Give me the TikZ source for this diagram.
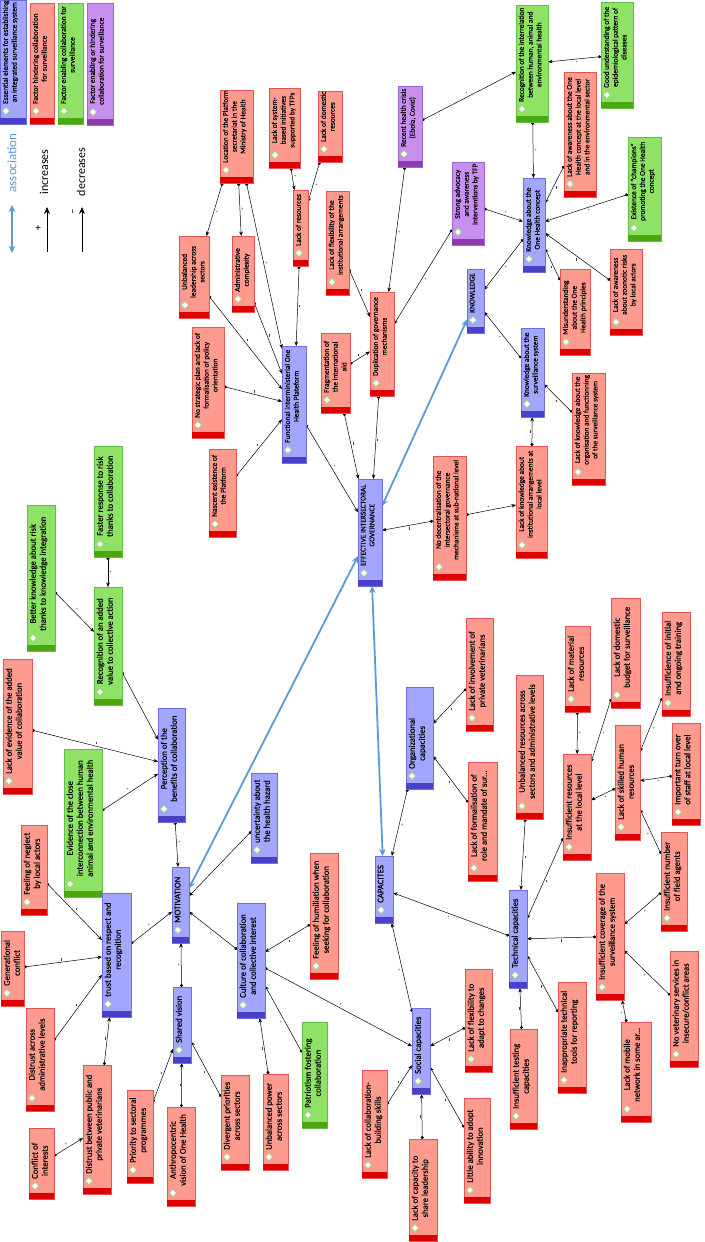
\documentclass[tikz,border=0pt]{standalone}
\usepackage{fontspec}
\setmainfont{Carlito}
\newfontfamily\bxfont{Carlito}[FakeBold=0.35]
\usetikzlibrary{arrows.meta,shapes.geometric,calc}
\definecolor{redfill}{RGB}{255,155,142}
\definecolor{redline}{RGB}{225,85,85}
\definecolor{redstrip}{RGB}{222,0,0}
\definecolor{bluefill}{RGB}{162,166,255}
\definecolor{blueline}{RGB}{110,110,225}
\definecolor{bluestrip}{RGB}{72,64,200}
\definecolor{greenfill}{RGB}{142,226,102}
\definecolor{greenline}{RGB}{100,190,70}
\definecolor{greenstrip}{RGB}{76,166,16}
\definecolor{purplefill}{RGB}{200,142,240}
\definecolor{purpleline}{RGB}{160,100,210}
\definecolor{purplestrip}{RGB}{140,60,175}
\definecolor{diamline}{RGB}{160,205,130}
\definecolor{assocblue}{RGB}{91,155,213}
\pgfdeclarelayer{back}\pgfdeclarelayer{edges}\pgfsetlayers{back,edges,main}
\tikzset{
  box/.style={draw, rectangle, inner sep=0pt, outer sep=0pt, line width=0.6pt},
  rb/.style={fill=redfill, draw=redline}, rbstrip/.style={fill=redstrip},
  bb/.style={fill=bluefill, draw=blueline}, bbstrip/.style={fill=bluestrip},
  gb/.style={fill=greenfill, draw=greenline}, gbstrip/.style={fill=greenstrip},
  pb/.style={fill=purplefill, draw=purpleline}, pbstrip/.style={fill=purplestrip},
  diam/.style={diamond, draw=diamline, fill=white, line width=0.8pt, minimum size=7.5pt, inner sep=0pt},
  txtS/.style={rotate=90, anchor=north west, align=center, inner sep=1pt, font=\bxfont\fontsize{7.4}{8.8}\selectfont},
  txtL/.style={rotate=90, anchor=north west, align=center, inner sep=1pt, font=\bxfont\fontsize{8.7}{10}\selectfont},
  conn/.style={line width=0.5pt, {Circle[length=3pt]}-{Stealth[length=4.5pt,width=3.6pt]}},
  lab/.style={midway, auto, inner sep=1.2pt, font=\fontsize{4.5}{4.5}\selectfont, text=black!75},
  assoc/.style={line width=1.8pt, draw=assocblue, {Stealth[length=7pt,width=6.5pt]}-{Stealth[length=7pt,width=6.5pt]}},
  legtxt/.style={rotate=90, font=\fontsize{12}{12}\selectfont}
}
\newcommand{\bx}[8]{%
  \node[box,#2,minimum width={((#5)-(#3))*1pt},minimum height={((#6)-(#4))*1pt}] (#1) at ({((#3)+(#5))/2},{((#4)+(#6))/2}) {};
  \fill[#2strip] ([xshift=0.4pt,yshift=0.4pt]#1.south west) rectangle ([xshift=-0.4pt,yshift=6pt]#1.south east);
  \node[diam] at ([shift={(6pt,13pt)}]#1.south west) {};
  \node[txt#7] at ([shift={(1.5pt,19pt)}]#1.south west) {#8};
}
\newcommand{\ed}[3]{\begin{pgfonlayer}{edges}\draw[conn] (#1) -- node[lab]{#3} (#2);\end{pgfonlayer}}
\newcommand{\as}[2]{\begin{pgfonlayer}{edges}\draw[assoc] (#1) -- (#2);\end{pgfonlayer}}
\newcommand{\mi}{\rule{0.35pt}{2.4pt}}
\begin{document}
\begin{tikzpicture}[x=1pt,y=-1pt]
\begin{pgfonlayer}{back}
\fill[white] (0,0) rectangle (704,1242);
\end{pgfonlayer}
\useasboundingbox (0,0) rectangle (704,1242);
% legend
\bx{legA}{bb}{0}{0}{26}{124}{S}{Essential elements for establishing\\an integrated surveillance system}
\bx{legB}{rb}{30}{3}{54}{124}{S}{Factor hindering collaboration\\for surveillance}
\bx{legC}{gb}{58}{3}{83}{124}{S}{Factor enabling collaboration for\\surveillance}
\bx{legD}{pb}{87}{3}{113}{125}{S}{Factor enabling or hindering\\collaboration for surveillance}
\node[legtxt, text=assocblue, font=\fontsize{13}{13}\selectfont] (assoclab) at (12,163) {association};
\coordinate (aA) at (12,205); \coordinate (aB) at (12,253);
\draw[assoc] (aA) -- (aB);
\node[legtxt] (inclab) at (44,172) {increases};
\coordinate (iA) at (47,252); \coordinate (iB) at (47,207);
\draw[line width=0.9pt, -{Stealth[length=7pt,width=6pt]}] (iA) -- (iB);
\node[font=\fontsize{11}{11}\selectfont] (iplus) at (38,228) {+};
\node[legtxt] (declab) at (81,172) {decreases};
\coordinate (dA) at (82,252); \coordinate (dB) at (82,207);
\draw[line width=0.9pt, -{Stealth[length=7pt,width=6pt]}] (dA) -- (dB);
\node[legtxt, font=\fontsize{11}{11}\selectfont] (dminus) at (74,212) {–};
% governance / knowledge region
\bx{loc}{rb}{220}{90}{253}{183}{S}{Location of the Platform\\secretariat in the\\Ministry of Health}
\bx{unbl}{rb}{179}{236}{209}{318}{S}{Unbalanced\\leadership across\\sectors}
\bx{admc}{rb}{232}{236}{254}{312}{S}{Administrative\\complexity}
\bx{lsys}{rb}{269}{88}{300}{168}{S}{Lack of system-\\based initiatives\\supported by TFPs}
\bx{ldom}{rb}{318}{91}{342}{162}{S}{Lack of domestic\\resources}
\bx{lres}{rb}{293}{190}{308}{266}{S}{Lack of resources}
\bx{lflex}{rb}{326}{191}{349}{295}{S}{Lack of flexibility of the\\institutional arrangements}
\bx{rhc}{pb}{398}{86}{422}{167}{S}{Recent health crisis\\(Ebola, Covid)}
\bx{sadv}{pb}{452}{162}{484}{245}{S}{Strong advocacy\\and awareness\\interventions by TFP}
\bx{dupl}{rb}{370}{292}{394}{396}{S}{Duplication of governance\\mechanisms}
\bx{rint}{gb}{516}{5}{548}{122}{S}{Recognition of the interrelation\\between human, animal and\\environmental health}
\bx{gund}{gb}{601}{2}{633}{108}{S}{Good understanding of the\\epidemiological pattern of\\diseases}
\bx{lawoh}{rb}{564}{72}{596}{197}{S}{Lack of awareness about the One\\Health concept at the local level\\and in the environmental sector}
\bx{champ}{gb}{628}{137}{661}{241}{S}{Existence of “champions”\\promoting the One Health\\concept}
\bx{koh}{bb}{523}{178}{545}{272}{S}{Knowledge about the\\One Health concept}
\bx{misu}{rb}{560}{269}{590}{355}{S}{Misunderstanding\\about the One\\Health principles}
\bx{lazoo}{rb}{610}{249}{642}{335}{S}{Lack of awareness\\about zoonotic risks\\by local actors}
\bx{know}{bb}{467}{269}{484}{333}{S}{KNOWLEDGE}
\bx{ksurv}{bb}{521}{328}{544}{417}{S}{Knowledge about the\\surveillance system}
\bx{lkorg}{rb}{572}{373}{605}{485}{S}{Lack of knowledge about the\\organisation and functionning\\of the surveillance system}
\bx{lkinst}{rb}{516}{446}{547}{558}{S}{Lack of knowledge about\\institutional arrangements at\\local level}
\bx{nodec}{rb}{433}{456}{466}{580}{S}{No decentralisation of the\\intersectoral governance\\mechanisms at sub-national level}
\bx{func}{bb}{282}{346}{306}{463}{S}{Functional interministerial One\\Health Plateform}
\bx{frag}{rb}{321}{333}{350}{413}{S}{Fragmentation of\\the international\\aid}
\bx{eig}{bb}{358}{479}{382}{586}{S}{EFFECTIVE INTERSECTORAL\\GOVERNANCE}
\bx{nasc}{rb}{209}{449}{236}{537}{S}{Nascent existence of\\the Platform}
\bx{nostr}{rb}{192}{327}{224}{438}{S}{No strategic plan and lack of\\formalisation of policy\\orientation}
% motivation region
\bx{fast}{gb}{94}{446}{122}{557}{L}{Faster response to risk\\thanks to collaboration}
\bx{bett}{gb}{27}{505}{55}{651}{L}{Better knowledge about risk\\thanks to knowledge integration}
\bx{radd}{gb}{94}{587}{122}{705}{L}{Recognition of an added\\value to collective action}
\bx{levid}{rb}{3}{659}{32}{794}{L}{Lack of evidence of the added\\value of collaboration}
\bx{evid}{gb}{64}{749}{102}{897}{L}{Evidence of the close\\interconnection between human\\animal and environmental health}
\bx{perc}{bb}{158}{708}{185}{822}{L}{Perception of the\\benefits of collaboration}
\bx{negl}{rb}{21}{825}{47}{915}{L}{Feeling of neglect\\by local actors}
\bx{motiv}{bb}{172}{867}{189}{943}{L}{MOTIVATION}
\bx{trust}{bb}{102}{893}{131}{1017}{L}{trust based on respect and\\recognition}
\bx{unc}{bb}{251}{773}{277}{863}{L}{uncertainty about\\the health hazard}
\bx{humi}{rb}{310}{853}{338}{979}{L}{Feeling of humiliation when\\seeking for collaboration}
\bx{cult}{bb}{237}{903}{265}{1018}{L}{Culture of collaboration\\and collective interest}
\bx{gen}{rb}{1}{931}{24}{1006}{L}{Generational\\conflict}
\bx{dacr}{rb}{26}{1008}{54}{1111}{L}{Distrust across\\administrative levels}
\bx{coi}{rb}{29}{1128}{54}{1199}{L}{Conflict of\\interests}
\bx{dpub}{rb}{83}{1065}{111}{1194}{L}{Distrust between public and\\private veterinarians}
\bx{shv}{bb}{173}{987}{191}{1063}{L}{Shared vision}
\bx{prio}{rb}{127}{1090}{153}{1183}{L}{Priority to sectoral\\programmes}
\bx{anth}{rb}{167}{1107}{195}{1206}{L}{Anthropocentric\\vision of One Health}
\bx{divp}{rb}{221}{1075}{249}{1170}{L}{Divergent priorities\\across sectors}
\bx{upow}{rb}{263}{1074}{288}{1170}{L}{Unbalanced power\\across sectors}
\bx{patr}{gb}{302}{1022}{327}{1128}{L}{Patriotism fostering\\collaboration}
% capacities region
\bx{org}{bb}{406}{687}{433}{789}{L}{Organizational\\capacities}
\bx{cap}{bb}{375}{856}{393}{923}{L}{CAPACITES}
\bx{linv}{rb}{466}{618}{493}{731}{L}{Lack of involvement of\\private veterinarians}
\bx{lform}{rb}{468}{762}{497}{881}{L}{Lack of formalisation of\\role and mandate of sur...}
\bx{unres}{rb}{516}{675}{543}{819}{L}{Unbalanced resources across\\sectors and administrative levels}
\bx{lmat}{rb}{565}{626}{590}{712}{L}{Lack of material\\resources}
\bx{lbud}{rb}{611}{598}{640}{708}{L}{Lack of domestic\\budget for surveillance}
\bx{itrain}{rb}{662}{612}{690}{716}{L}{Insufficience of initial\\and ongoing training}
\bx{ires}{rb}{563}{754}{591}{860}{L}{Insufficient resources\\at the local level}
\bx{lskill}{rb}{615}{725}{640}{840}{L}{Lack of skilled human\\resources}
\bx{turn}{rb}{672}{723}{700}{825}{L}{Important turn over\\of staff at local level}
\bx{inum}{rb}{661}{832}{687}{931}{L}{Insufficient number\\of field agents}
\bx{icov}{rb}{596}{873}{624}{1000}{L}{Insufficient coverage of the\\surveillance system}
\bx{tech}{bb}{509}{890}{527}{988}{L}{Technical capacities}
\bx{soc}{bb}{412}{1008}{430}{1094}{L}{Social capacities}
\bx{lcol}{rb}{362}{1070}{387}{1178}{L}{Lack of collaboration-\\building skills}
\bx{lcap}{rb}{409}{1139}{437}{1241}{L}{Lack of capacity to\\share leadership}
\bx{lfad}{rb}{465}{969}{492}{1072}{L}{Lack of flexibility to\\adapt to changes}
\bx{llit}{rb}{464}{1098}{490}{1203}{L}{Little ability to adopt\\innovation}
\bx{itest}{rb}{510}{1029}{537}{1129}{L}{Insufficient testing\\capacities}
\bx{inap}{rb}{558}{982}{586}{1093}{L}{Inappropriate technical\\tools for reporting}
\bx{lmob}{rb}{621}{1022}{651}{1122}{L}{Lack of mobile\\network in some ar...}
\bx{novet}{rb}{670}{951}{698}{1067}{L}{No veterinary services in\\insecure/conflict areas}
% connectors
\ed{loc}{unbl}{+}
\ed{loc}{admc}{+}
\ed{loc}{func}{+}
\ed{admc}{func}{\mi}
\ed{unbl}{func}{\mi}
\ed{lsys}{lres}{+}
\ed{ldom}{lres}{+}
\ed{lres}{func}{\mi}
\ed{nostr}{func}{\mi}
\ed{nasc}{func}{\mi}
\ed{func}{eig}{+}
\ed{lflex}{dupl}{\mi}
\ed{rhc}{dupl}{+}
\ed{sadv}{dupl}{+}
\ed{rhc}{rint}{+}
\ed{gund}{rint}{+}
\ed{rint}{koh}{+}
\ed{lawoh}{koh}{\mi}
\ed{champ}{koh}{+}
\ed{lazoo}{koh}{\mi}
\ed{misu}{koh}{\mi}
\ed{sadv}{koh}{+}
\ed{koh}{know}{+}
\ed{ksurv}{know}{+}
\ed{lkorg}{ksurv}{\mi}
\ed{lkinst}{ksurv}{\mi}
\ed{nodec}{lkinst}{+}
\ed{nodec}{eig}{\mi}
\ed{dupl}{eig}{\mi}
\ed{frag}{dupl}{\mi}
\ed{frag}{eig}{\mi}
\ed{fast}{radd}{+}
\ed{bett}{radd}{+}
\ed{radd}{perc}{+}
\ed{levid}{perc}{\mi}
\ed{evid}{perc}{+}
\ed{perc}{motiv}{+}
\ed{unc}{motiv}{+}
\ed{negl}{trust}{\mi}
\ed{trust}{motiv}{+}
\ed{gen}{trust}{\mi}
\ed{dacr}{trust}{\mi}
\ed{dpub}{trust}{\mi}
\ed{coi}{dpub}{+}
\ed{shv}{motiv}{+}
\ed{prio}{shv}{\mi}
\ed{anth}{shv}{\mi}
\ed{divp}{shv}{\mi}
\ed{cult}{motiv}{+}
\ed{humi}{cult}{\mi}
\ed{upow}{cult}{\mi}
\ed{patr}{cult}{+}
\ed{cult}{soc}{+}
\ed{soc}{cap}{+}
\ed{lcol}{soc}{\mi}
\ed{lcap}{soc}{\mi}
\ed{lfad}{soc}{\mi}
\ed{llit}{soc}{\mi}
\ed{org}{cap}{+}
\ed{linv}{org}{\mi}
\ed{lform}{org}{\mi}
\ed{tech}{cap}{+}
\ed{unres}{tech}{\mi}
\ed{ires}{tech}{\mi}
\ed{lmat}{ires}{+}
\ed{lbud}{ires}{+}
\ed{lskill}{ires}{+}
\ed{itrain}{lskill}{+}
\ed{turn}{lskill}{+}
\ed{inum}{lskill}{+}
\ed{inum}{icov}{+}
\ed{icov}{tech}{\mi}
\ed{lmob}{icov}{+}
\ed{novet}{icov}{+}
\ed{itest}{tech}{\mi}
\ed{inap}{tech}{\mi}
% associations
\as{know}{eig}
\as{eig}{motiv}
\as{eig}{cap}
\end{tikzpicture}
\end{document}
